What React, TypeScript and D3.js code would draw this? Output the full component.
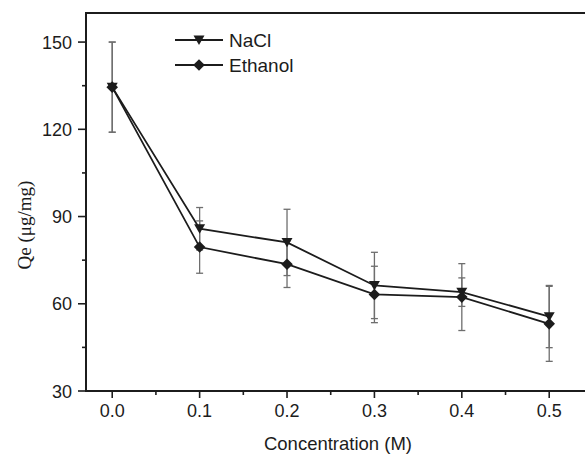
import React from "react";
import * as d3 from "d3";

const concentrations = [0.0, 0.1, 0.2, 0.3, 0.4, 0.5];
const naclValues = [134.5, 85.8, 81.1, 66.3, 64.0, 55.6];
const naclErrors = [15.5, 7.3, 11.4, 11.4, 4.9, 10.7];
const ethanolValues = [134.5, 79.5, 73.6, 63.2, 62.3, 53.1];
const ethanolErrors = [15.5, 9.0, 8.0, 9.7, 11.5, 12.9];
const xTickValues = [0.0, 0.1, 0.2, 0.3, 0.4, 0.5];
const xMinorValues = [0.05, 0.15, 0.25, 0.35, 0.45, 0.55];
const yTickValues = [30, 60, 90, 120, 150];
const yMinorValues = [45, 75, 105, 135];
const seriesNames = ["NaCl", "Ethanol"];

const W = 585;
const H = 454;
const left = 86;
const top = 13;
const bottom = 391;

export default function App() {
  const x = d3.scaleLinear().domain([-0.03, 0.55]).range([left, left + 0.58 * 874]);
  const y = d3.scaleLinear().domain([30, 160]).range([bottom, top]);
  const line = d3
    .line<number>()
    .x((_, i) => x(concentrations[i]))
    .y((d) => y(d));

  const ink = "#1c1c1c";
  const errColor = "#6e6e6e";
  const sans = "'Liberation Sans', Arial, sans-serif";

  const tri = (cx: number, cy: number, s = 5.5) =>
    `M${cx - s},${cy - s * 0.8}L${cx + s},${cy - s * 0.8}L${cx},${cy + s * 0.9}Z`;
  const dia = (cx: number, cy: number, s = 5.8) =>
    `M${cx},${cy - s}L${cx + s},${cy}L${cx},${cy + s}L${cx - s},${cy}Z`;

  const errBars = (vals: number[], errs: number[], capW: number) =>
    vals.map((v, i) => {
      const cx = x(concentrations[i]);
      const y1 = y(v + errs[i]);
      const y2 = y(v - errs[i]);
      return (
        <g key={i} stroke={errColor} strokeWidth={1.3}>
          <line x1={cx} x2={cx} y1={y1} y2={y2} />
          <line x1={cx - capW} x2={cx + capW} y1={y1} y2={y1} />
          <line x1={cx - capW} x2={cx + capW} y1={y2} y2={y2} />
        </g>
      );
    });

  return (
    <svg width={W} height={H} style={{ position: "absolute", left: 0, top: 0, background: "#fff" }}>
      {/* axes */}
      <line x1={left} x2={W} y1={top} y2={top} stroke={ink} strokeWidth={2} />
      <line x1={left} x2={left} y1={top - 1} y2={bottom + 1} stroke={ink} strokeWidth={2} />
      <line x1={left - 1} x2={W} y1={bottom} y2={bottom} stroke={ink} strokeWidth={2} />

      {yTickValues.map((t) => (
        <g key={t}>
          <line x1={left - 8} x2={left} y1={y(t)} y2={y(t)} stroke={ink} strokeWidth={1.6} />
          <text x={left - 14} y={y(t) + 6.5} textAnchor="end" fontFamily={sans} fontSize={18} fill={ink}>
            {t}
          </text>
        </g>
      ))}
      {yMinorValues.map((t) => (
        <line key={t} x1={left - 4} x2={left} y1={y(t)} y2={y(t)} stroke={ink} strokeWidth={1.6} />
      ))}
      {xTickValues.map((t) => (
        <g key={t}>
          <line x1={x(t)} x2={x(t)} y1={bottom} y2={bottom + 7} stroke={ink} strokeWidth={1.6} />
          <text x={x(t)} y={bottom + 26} textAnchor="middle" fontFamily={sans} fontSize={18} fill={ink}>
            {t.toFixed(1)}
          </text>
        </g>
      ))}
      {xMinorValues.map((t) => (
        <line key={t} x1={x(t)} x2={x(t)} y1={bottom} y2={bottom + 4} stroke={ink} strokeWidth={1.6} />
      ))}

      <text x={338} y={450} textAnchor="middle" fontFamily={sans} fontSize={18.5} fill={ink}>
        Concentration (M)
      </text>
      <text
        transform="translate(31,225) rotate(-90)"
        textAnchor="middle"
        fontFamily="'Liberation Serif', 'Times New Roman', serif"
        fontSize={19}
        fill={ink}
      >
        Qe (μg/mg)
      </text>

      {/* error bars */}
      {errBars(naclValues, naclErrors, 3.5)}
      {errBars(ethanolValues, ethanolErrors, 3.5)}

      {/* lines */}
      <path d={line(naclValues) || ""} fill="none" stroke={ink} strokeWidth={1.8} />
      <path d={line(ethanolValues) || ""} fill="none" stroke={ink} strokeWidth={1.8} />
      {naclValues.map((v, i) => (
        <path key={"n" + i} d={tri(x(concentrations[i]), y(v))} fill={ink} />
      ))}
      {ethanolValues.map((v, i) => (
        <path key={"e" + i} d={dia(x(concentrations[i]), y(v))} fill={ink} />
      ))}

      {/* legend */}
      {seriesNames.map((name, i) => {
        const ly = 40 + i * 25;
        return (
          <g key={name}>
            <line x1={175} x2={223} y1={ly} y2={ly} stroke={ink} strokeWidth={1.8} />
            <path d={i === 0 ? tri(199, ly) : dia(199, ly)} fill={ink} />
            <text x={229} y={ly + 6.5} fontFamily={sans} fontSize={19} fill={ink}>
              {name}
            </text>
          </g>
        );
      })}
    </svg>
  );
}
